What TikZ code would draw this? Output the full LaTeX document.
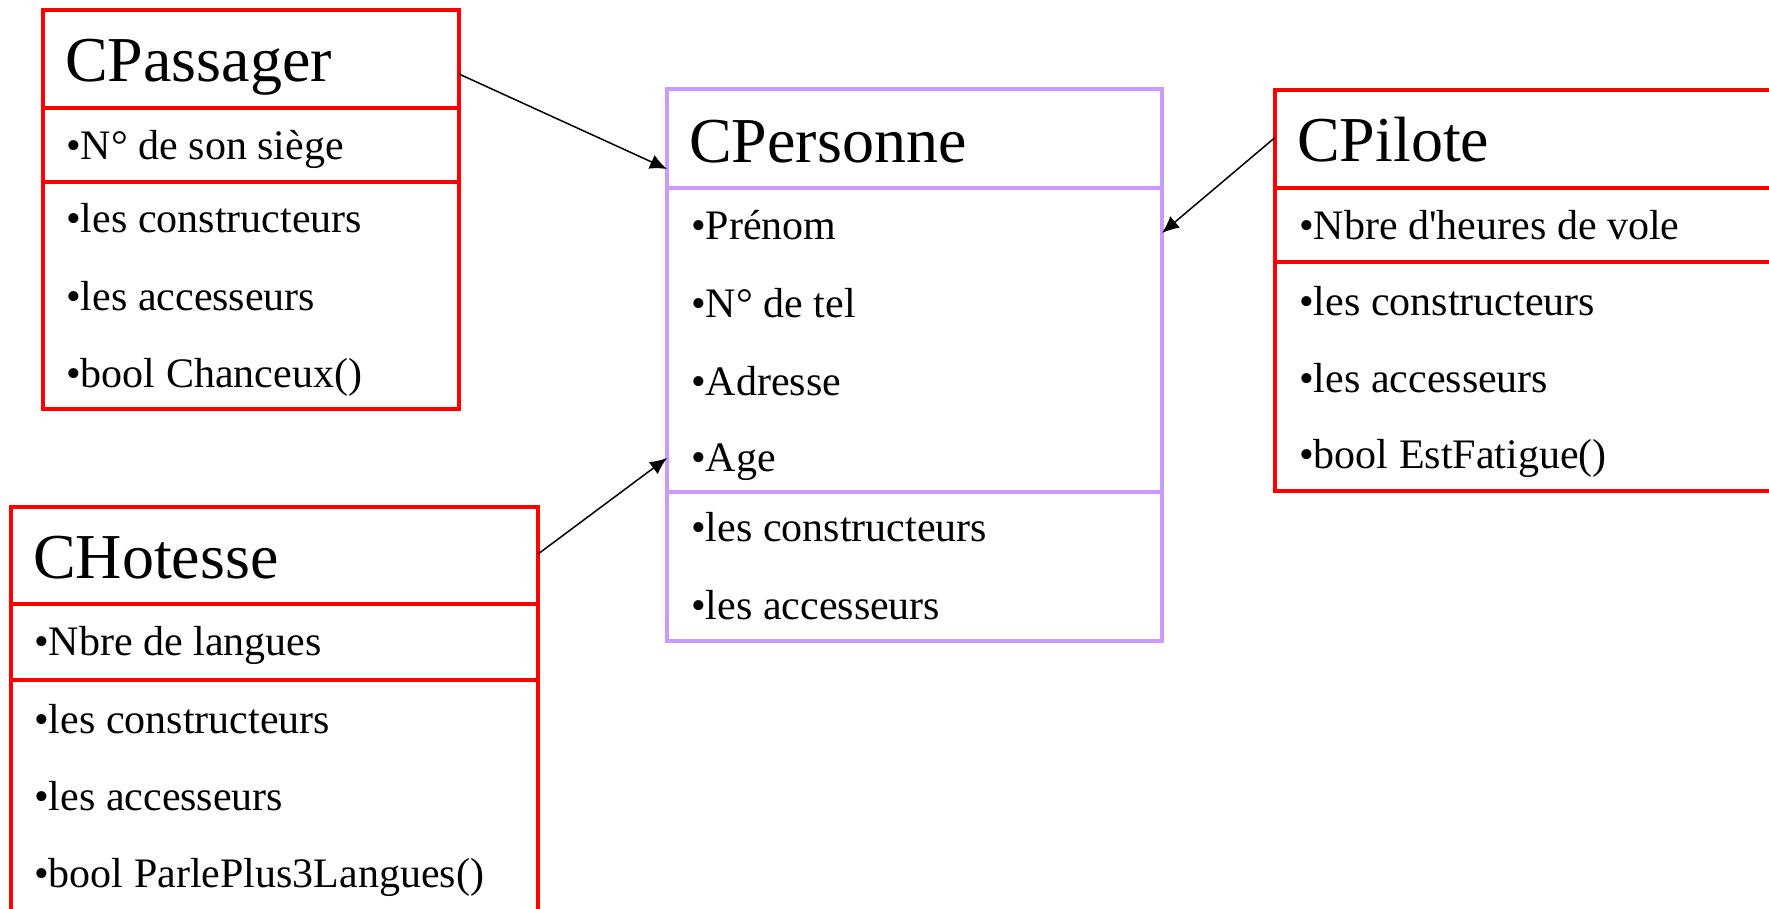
\documentclass[tikz,border=0pt]{standalone}
\usepackage{fontspec}
\setmainfont{Liberation Serif}
\usetikzlibrary{arrows.meta,calc}
\definecolor{boxred}{HTML}{FF0000}
\definecolor{boxpurple}{HTML}{CC99FF}
\tikzset{
  comp/.style={draw, line width=4.5pt, inner sep=0pt, outer sep=0pt, anchor=north west, fill=none},
  redcomp/.style={comp, draw=boxred},
  purcomp/.style={comp, draw=boxpurple},
  title/.style={anchor=base west, inner sep=0pt, font=\fontsize{64}{64}\selectfont},
  item/.style={anchor=base west, inner sep=0pt, font=\fontsize{42}{42}\selectfont},
  inherit/.style={line width=1.5pt, -{Latex[length=17pt,width=15pt]}}
}
\begin{document}
\begin{tikzpicture}[x=1pt,y=-1pt]
\useasboundingbox (0,0) rectangle (1769,909);
\clip (0,0) rectangle (1769,909);
\fill[white] (0,0) rectangle (1769,909);

% CPassager
\node[redcomp, minimum width=416pt, minimum height=98pt] (passT) at (43,10) {};
\node[redcomp, minimum width=416pt, minimum height=74pt] (passA) at (43,108) {};
\node[redcomp, minimum width=416pt, minimum height=227pt] (passM) at (43,182) {};
\node[title] (passTt) at (65,82) {CPassager};
\node[item] (passA1) at (66,160) {•N° de son siège};
\node[item] (passM1) at (66,233) {•les constructeurs};
\node[item] (passM2) at (66,310) {•les accesseurs};
\node[item] (passM3) at (66,387) {•bool Chanceux()};

% CPersonne
\node[purcomp, minimum width=495pt, minimum height=99pt] (persT) at (667,89) {};
\node[purcomp, minimum width=495pt, minimum height=304pt] (persA) at (667,188) {};
\node[purcomp, minimum width=495pt, minimum height=149pt] (persM) at (667,492) {};
\node[title] (persTt) at (689,163) {CPersonne};
\node[item] (persA1) at (691,240) {•Prénom};
\node[item] (persA2) at (691,317) {•N° de tel};
\node[item] (persA3) at (691,395) {•Adresse};
\node[item] (persA4) at (691,471) {•Age};
\node[item] (persM1) at (691,541) {•les constructeurs};
\node[item] (persM2) at (691,619) {•les accesseurs};

% CPilote
\node[redcomp, minimum width=515pt, minimum height=98pt] (pilT) at (1275,90) {};
\node[redcomp, minimum width=515pt, minimum height=74pt] (pilA) at (1275,188) {};
\node[redcomp, minimum width=515pt, minimum height=229pt] (pilM) at (1275,262) {};
\node[title] (pilTt) at (1297,162) {CPilote};
\node[item] (pilA1) at (1299,240) {•Nbre d\textquotesingle heures de vole};
\node[item] (pilM1) at (1299,315) {•les constructeurs};
\node[item] (pilM2) at (1299,392) {•les accesseurs};
\node[item] (pilM3) at (1299,468) {•bool EstFatigue()};

% CHotesse
\node[redcomp, minimum width=527pt, minimum height=97pt] (hotT) at (11,507) {};
\node[redcomp, minimum width=527pt, minimum height=76pt] (hotA) at (11,604) {};
\node[redcomp, minimum width=527pt, minimum height=232pt] (hotM) at (11,680) {};
\node[title] (hotTt) at (33,578) {CHotesse};
\node[item] (hotA1) at (34,655) {•Nbre de langues};
\node[item] (hotM1) at (34,733) {•les constructeurs};
\node[item] (hotM2) at (34,810) {•les accesseurs};
\node[item] (hotM3) at (34,887) {•bool ParlePlus3Langues()};

% Inheritance arrows
\draw[inherit] ($(passT.north east)!0.653!(passT.south east)$) -- ($(persT.north west)!0.808!(persT.south west)$);
\draw[inherit] ($(pilT.north west)!0.485!(pilT.south west)$) -- ($(persA.north east)!0.148!(persA.south east)$);
\draw[inherit] ($(hotT.north east)!0.485!(hotT.south east)$) -- ($(persA.north west)!0.888!(persA.south west)$);
\end{tikzpicture}
\end{document}
